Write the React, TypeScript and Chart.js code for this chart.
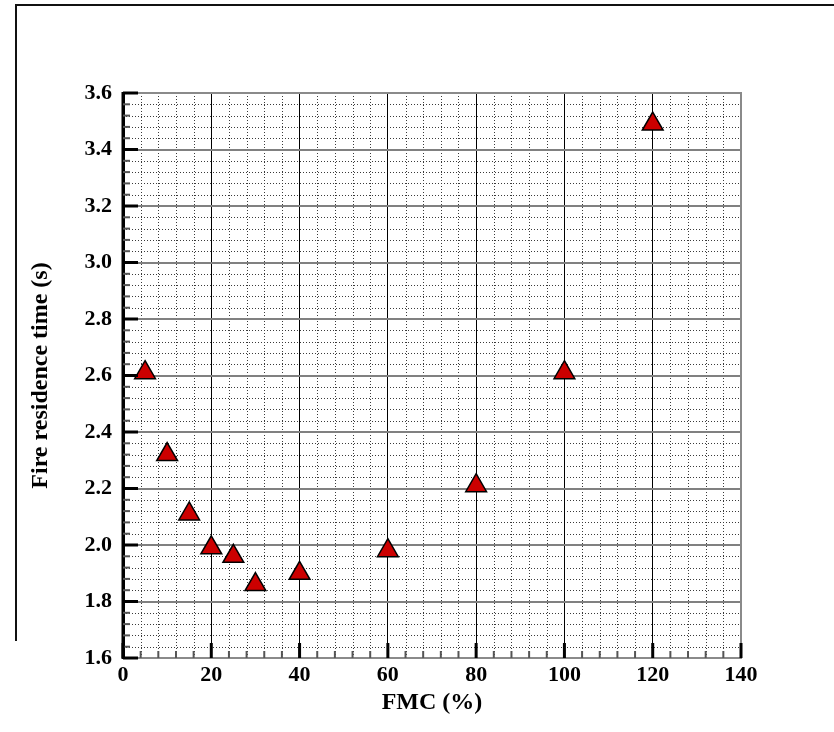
import React, { useEffect, useRef } from 'react';
import { Chart, registerables } from 'chart.js';

Chart.register(...registerables);

const fmcValues = [5, 10, 15, 20, 25, 30, 40, 60, 80, 100, 120];
const residenceTimes = [2.61, 2.32, 2.11, 1.99, 1.96, 1.86, 1.9, 1.98, 2.21, 2.61, 3.49];
const xMin = 0;
const xMax = 140;
const xMajorStep = 20;
const xMinorStep = 4;
const yMin = 1.6;
const yMax = 3.6;
const yMajorStep = 0.2;
const yMinorStep = 0.04;
const xTitle = 'FMC (%)';
const yTitle = 'Fire residence time (s)';

const SERIF = '"Liberation Serif", "Times New Roman", serif';

const gridPlugin = {
  id: 'tecplotGrid',
  beforeDraw(chart: any) {
    const { ctx, chartArea, scales } = chart;
    const xs = scales.x;
    const ys = scales.y;
    ctx.save();
    ctx.fillStyle = '#ffffff';
    ctx.fillRect(0, 0, chart.width, chart.height);
    ctx.lineWidth = 1;
    ctx.setLineDash([1, 2]);
    ctx.strokeStyle = '#3a3a3a';
    const nx = Math.round((xMax - xMin) / xMinorStep);
    for (let i = 1; i < nx; i++) {
      if (i % 5 === 0) continue;
      const px = Math.round(xs.getPixelForValue(xMin + i * xMinorStep)) + 0.5;
      ctx.beginPath();
      ctx.moveTo(px, chartArea.top);
      ctx.lineTo(px, chartArea.bottom);
      ctx.stroke();
    }
    const ny = Math.round((yMax - yMin) / yMinorStep);
    for (let i = 1; i < ny; i++) {
      if (i % 5 === 0) continue;
      const py = Math.round(ys.getPixelForValue(yMin + i * yMinorStep)) + 0.5;
      ctx.beginPath();
      ctx.moveTo(chartArea.left, py);
      ctx.lineTo(chartArea.right, py);
      ctx.stroke();
    }
    ctx.restore();
  },
  afterDraw(chart: any) {
    const { ctx, chartArea, scales } = chart;
    const xs = scales.x;
    const ys = scales.y;
    const { left, right, top, bottom } = chartArea;
    ctx.save();
    ctx.setLineDash([]);
    ctx.strokeStyle = '#8a8a8a';
    ctx.lineWidth = 2;
    ctx.beginPath();
    ctx.moveTo(left, top);
    ctx.lineTo(right, top);
    ctx.lineTo(right, bottom);
    ctx.stroke();
    ctx.strokeStyle = '#000';
    ctx.lineWidth = 3;
    ctx.beginPath();
    ctx.moveTo(left, top - 1);
    ctx.lineTo(left, bottom + 1);
    ctx.stroke();
    const ny = Math.round((yMax - yMin) / yMinorStep);
    for (let i = 0; i <= ny; i++) {
      const major = i % 5 === 0;
      const py = ys.getPixelForValue(yMin + i * yMinorStep);
      ctx.lineWidth = major ? 3 : 2;
      ctx.strokeStyle = major ? '#000' : '#555';
      ctx.beginPath();
      ctx.moveTo(left, py);
      ctx.lineTo(left + (major ? 15 : 7), py);
      ctx.stroke();
    }
    const nx = Math.round((xMax - xMin) / xMinorStep);
    for (let i = 0; i <= nx; i++) {
      const major = i % 5 === 0;
      const px = xs.getPixelForValue(xMin + i * xMinorStep);
      ctx.lineWidth = major ? 3 : 2;
      ctx.strokeStyle = major ? '#000' : '#555';
      ctx.beginPath();
      ctx.moveTo(px, bottom);
      ctx.lineTo(px, bottom - (major ? 15 : 7));
      ctx.stroke();
    }
    ctx.strokeStyle = '#111';
    ctx.lineWidth = 2;
    ctx.beginPath();
    ctx.moveTo(16, 641);
    ctx.lineTo(16, 5);
    ctx.lineTo(chart.width, 5);
    ctx.stroke();
    ctx.restore();
  },
};

export default function App() {
  const canvasRef = useRef<HTMLCanvasElement | null>(null);

  useEffect(() => {
    const canvas = canvasRef.current;
    if (!canvas) return;
    const chart = new Chart(canvas, {
      type: 'scatter',
      data: {
        datasets: [
          {
            label: 'Fire residence time',
            data: fmcValues.map((x, i) => ({ x, y: residenceTimes[i] })),
            pointStyle: 'triangle',
            pointRadius: 12,
            pointHoverRadius: 12,
            backgroundColor: '#cc0000',
            borderColor: '#000000',
            borderWidth: 1.5,
          },
        ],
      },
      options: {
        responsive: false,
        animation: false,
        events: [],
        layout: { padding: { left: 0, top: 93, right: 93, bottom: 0 } },
        plugins: {
          legend: { display: false },
          tooltip: { enabled: false },
          title: { display: false },
        },
        scales: {
          x: {
            type: 'linear',
            min: xMin,
            max: xMax,
            afterFit: (scale: any) => {
              scale.height = 74;
            },
            ticks: {
              stepSize: xMajorStep,
              color: '#000',
              padding: 4,
              font: { family: SERIF, size: 22, weight: 'bold' },
              callback: (v: any) => String(Math.round(Number(v))),
            },
            grid: { color: '#000', lineWidth: 1, drawTicks: false },
            border: { display: true, color: '#8a8a8a', width: 2 },
            title: {
              display: true,
              text: xTitle,
              color: '#000',
              font: { family: SERIF, size: 24, weight: 'bold' },
              padding: { top: 0, bottom: 15 },
            },
          },
          y: {
            type: 'linear',
            min: yMin,
            max: yMax,
            afterFit: (scale: any) => {
              scale.width = 123;
            },
            ticks: {
              stepSize: yMajorStep,
              color: '#000',
              padding: 11,
              font: { family: SERIF, size: 22, weight: 'bold' },
              callback: (v: any) => Number(v).toFixed(1),
            },
            grid: { color: '#808080', lineWidth: 2, drawTicks: false },
            border: { display: true, color: '#000', width: 3 },
            title: {
              display: true,
              text: yTitle,
              color: '#000',
              font: { family: SERIF, size: 24, weight: 'bold' },
              padding: { top: 26, bottom: 0 },
            },
          },
        },
      },
      plugins: [gridPlugin],
    });
    return () => chart.destroy();
  }, []);

  return (
    <div style={{ position: 'absolute', left: 0, top: 0, width: 834, height: 732, background: '#fff' }}>
      <canvas ref={canvasRef} width={834} height={732} style={{ display: 'block' }} />
    </div>
  );
}
